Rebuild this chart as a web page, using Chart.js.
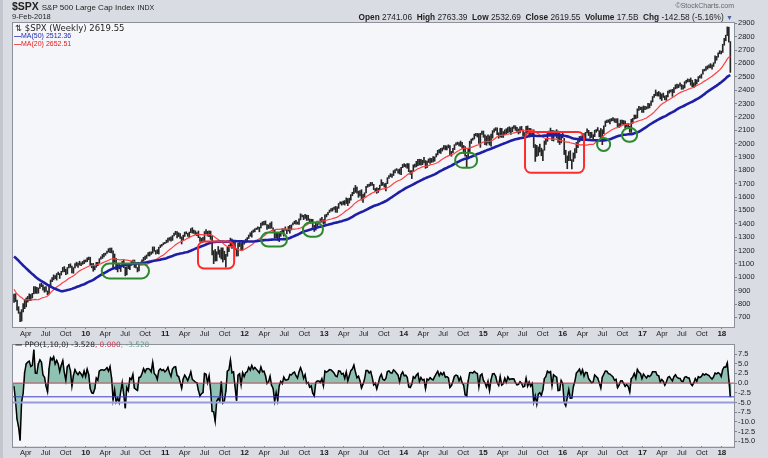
<!DOCTYPE html>
<html>
<head>
<meta charset="utf-8">
<script src="https://cdn.jsdelivr.net/npm/chart.js@4.4.1/dist/chart.umd.min.js"></script>
<style>
body { margin: 0; width: 768px; height: 458px; overflow: hidden; position: relative; background: #d9dce2; font-family: "Liberation Sans", Arial, sans-serif; }
canvas { position: absolute; left: 0; }
#priceCanvas { top: 0; }
#ppoCanvas { top: 339px; }
.txt { position: absolute; white-space: nowrap; color: #1e1e1e; line-height: 1; }
.leg { font-family: "DejaVu Sans", Verdana, sans-serif; }
#edge { position: absolute; left: 0; top: 0; width: 3px; height: 458px; background: #c3c6cc; }
</style>
</head>
<body>
<div id="edge"></div>
<canvas id="priceCanvas" width="768" height="339"></canvas>
<canvas id="ppoCanvas" width="768" height="119"></canvas>

<div class="txt" style="left:12px;top:1px;font-size:10.5px;font-weight:bold;">$SPX <span style="font-weight:normal;font-size:8px;">S&amp;P 500 Large Cap Index</span> <span style="font-weight:normal;font-size:7px;">INDX</span></div>
<div class="txt" style="left:12px;top:13px;font-size:7.5px;">9-Feb-2018</div>
<div class="txt" style="right:34px;top:2px;font-size:7px;color:#666;">&copy;StockCharts.com</div>
<div class="txt" style="right:35px;top:13px;font-size:8.3px;"><b>Open</b> 2741.06 &nbsp;<b>High</b> 2763.39 &nbsp;<b>Low</b> 2532.69 &nbsp;<b>Close</b> 2619.55 &nbsp;<b>Volume</b> 17.5B &nbsp;<b>Chg</b> -142.58 (-5.16%) <span style="color:#4a64a8;font-size:7px;">&#9660;</span></div>

<div class="txt leg" style="left:15px;top:24px;font-size:8.5px;">&#8645; $SPX (Weekly) 2619.55</div>
<div class="txt" style="left:14px;top:32px;font-size:7px;color:#1f1fa8;"><b>&#8212;</b>MA(50) 2512.36</div>
<div class="txt" style="left:14px;top:40px;font-size:7px;color:#e81818;"><b>&#8212;</b>MA(20) 2652.51</div>

<div class="txt leg" style="left:15px;top:341px;font-size:7.4px;"><b>&#8212;</b> PPO(1,10,0) -3.528<span style="color:#c8384f;">, 0.000</span><span style="color:#6a9c8c;">, -3.528</span></div>

<script>
// weekly bars, first bar = week ending 6-Feb-2009, last = 9-Feb-2018
var firstWeek = '2009-02-06';

// 49 weekly closes before the first bar (Feb 2008 - Jan 2009), used to warm up the averages
var priorCloses = [
  1330.6,1293.4,1288.1,1329.5,1315.2,1370.4,1332.8,1390.3,1397.8,1413.9,1388.3,1425.4,1375.9,1400.4,
  1360.7,1360.0,1317.9,1278.4,1262.9,1239.5,1260.7,1257.8,1260.3,1296.3,1298.2,1292.2,1282.8,
  1242.3,1251.7,1255.1,1213.3,1099.2,899.2,940.6,876.8,968.8,931.0,873.3,800.0,896.2,
  876.1,879.7,887.9,872.8,931.8,890.4,850.1,832.0,825.9
];

var closes = [
  // 2009
  868.6,826.8,770.0,735.1,683.4,756.6,768.5,815.9,842.5,856.6,869.6,866.2,877.5,929.2,882.9,887.0,919.1,
  940.1,946.2,921.2,918.9,896.4,879.1,940.4,979.3,987.5,1010.5,1004.1,1026.1,1028.9,1016.4,1042.7,1068.3,1044.4,
  1025.2,1071.5,1087.7,1079.6,1036.2,1069.3,1093.5,1091.4,1091.5,1106.0,1106.4,1102.5,1126.5,1115.1,
  // 2010
  1145.0,1136.0,1091.8,1073.9,1066.2,1075.5,1109.2,1104.5,1138.7,1150.0,1159.9,1166.6,1178.1,1194.4,1192.1,1217.3,1186.7,
  1110.9,1135.7,1087.7,1089.4,1064.9,1091.6,1117.5,1076.8,1022.6,1078.0,1064.9,1102.7,1101.6,1121.6,1079.3,1071.7,1064.6,
  1104.5,1109.6,1125.6,1148.7,1146.2,1165.2,1176.2,1183.1,1183.3,1225.9,1199.2,1199.7,1189.4,1224.7,1240.4,1243.9,1256.8,1257.6,
  // 2011
  1271.5,1293.2,1283.4,1276.3,1310.9,1329.2,1343.0,1319.9,1321.2,1304.3,1279.2,1313.8,1332.4,1328.2,1319.7,1337.4,1363.6,
  1340.2,1337.8,1333.3,1331.1,1300.2,1271.0,1271.5,1268.5,1339.7,1343.8,1316.1,1345.0,1292.3,1199.4,1178.8,1123.5,1176.8,
  1174.0,1154.2,1216.0,1136.4,1131.4,1155.5,1224.6,1238.3,1285.1,1253.2,1263.9,1215.7,1158.7,1244.3,1255.2,1219.7,1265.3,1257.6,
  // 2012
  1277.8,1289.1,1315.4,1316.3,1344.9,1342.6,1361.2,1365.7,1369.6,1370.9,1404.2,1397.1,1408.5,1398.1,1370.3,1378.5,1403.4,
  1369.1,1353.4,1295.2,1317.8,1278.0,1325.7,1342.8,1335.0,1362.2,1354.7,1356.8,1362.7,1386.0,1391.0,1405.9,1418.2,1411.1,1406.6,
  1437.9,1465.8,1460.2,1440.7,1460.9,1428.6,1433.2,1411.9,1414.2,1379.9,1359.9,1409.2,1416.2,1418.1,1413.6,1430.2,1402.4,
  // 2013
  1466.5,1472.1,1486.0,1503.0,1513.2,1517.9,1519.8,1515.6,1518.2,1551.2,1560.7,1556.9,1569.2,1553.3,1588.9,1555.3,1582.2,
  1614.4,1633.7,1667.5,1649.6,1630.7,1643.4,1626.7,1592.4,1606.3,1631.9,1680.2,1692.1,1691.7,1709.7,1691.4,1655.8,1663.5,1633.0,
  1655.2,1688.0,1709.9,1691.8,1690.5,1703.2,1744.5,1759.8,1761.6,1770.6,1798.2,1804.8,1805.8,1805.1,1775.3,1818.3,1841.4,
  // 2014
  1831.4,1842.4,1838.7,1790.3,1782.6,1797.0,1838.6,1836.3,1859.5,1878.0,1841.1,1866.5,1857.6,1865.1,1815.7,1864.9,1863.4,
  1881.1,1878.5,1877.9,1900.5,1923.6,1949.4,1936.2,1962.9,1961.0,1985.4,1967.6,1978.2,1978.3,1925.2,1931.6,1955.1,1988.4,2003.4,
  2007.7,1985.5,2010.4,1982.9,1967.9,1906.1,1886.8,1964.6,2018.1,2031.9,2039.8,2063.5,2067.6,2075.4,2002.3,2070.7,2088.8,
  // 2015
  2058.2,2044.8,2019.4,2051.8,1995.0,2055.5,2097.0,2110.3,2104.5,2071.3,2053.4,2108.1,2061.0,2067.0,2102.1,2081.2,2117.7,
  2108.3,2116.1,2122.7,2126.1,2107.4,2092.8,2094.1,2110.0,2101.5,2076.8,2076.6,2126.6,2079.7,2103.8,2077.6,2091.5,1970.9,1988.9,
  1921.2,1961.1,1958.0,1931.3,1951.4,2014.9,2033.1,2075.2,2079.4,2099.2,2023.0,2089.2,2090.1,2091.7,2012.4,2005.6,2061.0,2043.9,
  // 2016
  1922.0,1880.3,1906.9,1940.2,1880.1,1864.8,1917.8,1948.1,2000.0,2022.2,2049.6,2035.9,2072.8,2047.6,2080.7,2091.6,2065.3,
  2057.1,2046.6,2052.3,2099.1,2099.1,2096.1,2071.2,2037.4,2103.0,2129.9,2161.7,2175.0,2173.6,2182.9,2184.1,2183.9,2169.0,
  2180.0,2127.8,2139.2,2164.7,2168.3,2153.7,2133.0,2141.2,2126.4,2085.2,2164.5,2181.9,2213.4,2192.0,2259.5,2258.1,2263.8,2238.8,
  // 2017
  2277.0,2274.6,2271.3,2294.7,2297.4,2316.1,2351.2,2367.3,2383.1,2372.6,2378.3,2344.0,2362.7,2355.5,2329.0,2348.7,2384.2,
  2399.3,2390.9,2381.7,2415.8,2439.1,2431.8,2433.2,2438.3,2423.4,2425.2,2459.3,2472.5,2472.1,2476.8,2441.3,2425.6,2443.1,
  2476.6,2461.4,2500.2,2502.2,2519.4,2549.3,2553.2,2575.2,2581.1,2587.8,2582.3,2578.9,2602.4,2642.2,2651.5,2675.8,2683.3,2673.6,
  // 2018
  2743.2,2786.2,2810.3,2872.9,2762.1,2619.55
];

var lows = [
  // 2009
  812,818,754,730,667,672,741,765,779,814,826,826,845,876,879,879,881,
  917,930,903,888,895,869,875,936,968,980,990,979,1019,991,1017,1040,1041,
  1019,1025,1070,1074,1033,1030,1069,1085,1073,1091,1086,1097,1102,1114,
  // 2010
  1116,1131,1090,1071,1045,1056,1075,1086,1105,1135,1141,1152,1165,1179,1188,1184,1182,
  1066,1111,1056,1040,1063,1043,1087,1071,1011,1018,1064,1056,1088,1101,1074,1069,1040,
  1048,1092,1102,1122,1131,1141,1159,1159,1171,1180,1194,1173,1177,1174,1222,1232,1243,1252,
  // 2011
  1257,1263,1276,1270,1276,1310,1320,1294,1304,1291,1249,1279,1305,1325,1306,1295,1334,
  1330,1328,1318,1311,1296,1268,1258,1262,1267,1327,1308,1303,1283,1168,1102,1121,1122,
  1172,1149,1136,1114,1131,1075,1157,1191,1230,1215,1226,1209,1158,1159,1230,1203,1203,1248,
  // 2012
  1258,1274,1290,1307,1300,1336,1340,1357,1359,1340,1369,1389,1392,1392,1357,1365,1366,
  1367,1344,1292,1296,1277,1267,1306,1324,1307,1352,1325,1345,1329,1354,1391,1400,1397,1397,
  1396,1429,1452,1431,1440,1425,1427,1403,1406,1373,1343,1353,1385,1398,1411,1412,1398,
  // 2013
  1402,1451,1467,1485,1494,1495,1508,1486,1485,1515,1548,1539,1545,1540,1552,1536,1555,
  1577,1610,1626,1635,1630,1598,1608,1577,1560,1601,1631,1673,1680,1684,1688,1655,1640,1628,
  1634,1655,1686,1687,1674,1646,1700,1740,1752,1746,1761,1780,1799,1779,1772,1767,1820,
  // 2014
  1828,1823,1815,1790,1770,1738,1791,1824,1826,1834,1840,1839,1842,1856,1815,1820,1859,
  1851,1859,1862,1868,1900,1915,1930,1926,1944,1958,1953,1952,1968,1916,1905,1932,1955,1989,
  1993,1983,1979,1965,1926,1905,1821,1886,1937,2001,2025,2034,2058,2049,2002,1972,2069,
  // 2015
  2047,1992,1988,2004,1989,1981,2041,2085,2098,2067,2040,2049,2046,2046,2067,2073,2080,
  2086,2068,2089,2113,2099,2086,2072,2079,2096,2056,2044,2077,2079,2063,2068,2052,1971,1867,
  1903,1910,1937,1909,1872,1950,1993,2017,2059,2069,2022,2019,2070,2042,2009,1993,2005,2043,
  // 2016
  1918,1857,1812,1872,1872,1810,1866,1891,1931,1969,2012,2023,2022,2033,2039,2080,2060,
  2040,2045,2025,2052,2085,2095,2050,2033,1992,2075,2128,2156,2159,2148,2168,2172,2160,
  2157,2127,2119,2132,2145,2142,2115,2125,2120,2084,2084,2151,2183,2187,2192,2248,2254,2234,
  // 2017
  2233,2254,2258,2263,2267,2285,2311,2345,2358,2356,2355,2334,2322,2345,2328,2323,2349,
  2378,2387,2353,2381,2409,2415,2418,2429,2406,2407,2416,2452,2461,2462,2437,2425,2418,
  2428,2446,2464,2492,2489,2520,2543,2547,2557,2566,2567,2557,2577,2601,2624,2646,2672,2670,
  // 2018
  2682,2736,2769,2808,2759,2532.69
];

var highs = [
  // 2009
  875,877,830,780,739,758,804,833,845,857,876,871,880,930,930,924,920,
  951,956,944,927,931,898,941,980,997,1018,1012,1028,1039,1028,1045,1074,1080,
  1060,1073,1097,1101,1084,1072,1102,1113,1106,1120,1108,1119,1128,1130,
  // 2010
  1146,1151,1150,1103,1104,1081,1112,1112,1139,1153,1170,1180,1181,1195,1214,1218,1219,
  1197,1174,1141,1104,1105,1092,1119,1132,1076,1079,1100,1104,1120,1128,1129,1100,1073,
  1105,1112,1131,1149,1158,1167,1184,1190,1190,1227,1227,1200,1206,1225,1241,1247,1258,1262,
  // 2011
  1278,1294,1297,1302,1312,1330,1344,1342,1333,1327,1302,1315,1338,1340,1329,1338,1364,
  1371,1353,1347,1334,1346,1301,1292,1298,1342,1356,1344,1347,1345,1308,1199,1208,1191,
  1230,1204,1220,1220,1195,1172,1225,1240,1293,1285,1277,1266,1216,1255,1267,1256,1266,1270,
  // 2012
  1285,1297,1316,1333,1345,1354,1363,1368,1378,1374,1405,1414,1419,1422,1394,1392,1406,
  1415,1369,1354,1328,1335,1335,1344,1364,1362,1377,1357,1380,1389,1392,1407,1420,1426,1414,
  1438,1475,1467,1463,1470,1465,1464,1436,1434,1433,1388,1410,1420,1420,1438,1448,1431,
  // 2013
  1467,1472,1486,1503,1514,1518,1525,1530,1526,1552,1564,1564,1570,1574,1594,1589,1592,
  1618,1636,1667,1687,1674,1644,1649,1655,1620,1632,1681,1694,1698,1710,1709,1695,1664,1670,
  1665,1689,1730,1710,1700,1704,1745,1760,1775,1771,1798,1805,1813,1806,1811,1823,1844,
  // 2014
  1850,1844,1851,1850,1798,1798,1841,1847,1867,1883,1883,1883,1875,1897,1873,1869,1885,
  1891,1889,1902,1901,1924,1950,1956,1964,1968,1986,1985,1983,1991,1985,1942,1964,1992,2006,
  2011,2008,2019,2010,1986,1977,1912,1965,2018,2034,2041,2071,2076,2076,2075,2077,2094,
  // 2015
  2094,2065,2056,2065,2058,2072,2097,2111,2119,2118,2081,2115,2114,2090,2103,2111,2120,
  2126,2118,2124,2135,2133,2121,2109,2126,2129,2102,2082,2129,2132,2114,2113,2102,2103,1993,
  1987,1975,1996,1966,1953,2020,2034,2080,2094,2116,2100,2097,2094,2104,2093,2076,2067,2081,
  // 2016
  2039,1950,1908,1940,1947,1881,1930,1963,2009,2023,2053,2056,2075,2075,2084,2111,2099,
  2084,2085,2067,2100,2105,2120,2097,2113,2104,2132,2169,2176,2178,2183,2188,2194,2187,
  2185,2187,2149,2176,2175,2173,2169,2148,2151,2131,2182,2189,2214,2214,2260,2278,2273,2273,
  // 2017
  2282,2279,2276,2301,2299,2319,2352,2368,2401,2383,2390,2381,2371,2378,2356,2361,2392,
  2400,2403,2406,2418,2440,2446,2441,2454,2442,2435,2463,2474,2484,2480,2491,2474,2454,
  2481,2477,2501,2509,2520,2553,2557,2576,2582,2589,2598,2590,2605,2657,2652,2679,2695,2692,
  // 2018
  2743,2787,2811,2873,2871,2763.39
];

// axis ticks
var priceTicks = [700,800,900,1000,1100,1200,1300,1400,1500,1600,1700,1800,1900,2000,2100,2200,2300,2400,2500,2600,2700,2800,2900];
var ppoTicks = [7.5,5,2.5,0,-2.5,-5,-7.5,-10,-12.5,-15];
var quarterNames = ['Jan','Apr','Jul','Oct'];
var ppoGuides = [0, -3.528, -5];

// hand drawn highlight boxes (dates / price levels)
var highlights = [
  { from: '2010-03-16', to: '2010-10-19', low: 991,  high: 1103, kind: 'green' },
  { from: '2011-06-01', to: '2011-11-14', low: 1065, high: 1267, kind: 'red' },
  { from: '2012-03-17', to: '2012-07-14', low: 1230, high: 1334, kind: 'green' },
  { from: '2012-09-25', to: '2012-12-26', low: 1304, high: 1409, kind: 'green' },
  { from: '2014-08-25', to: '2014-12-04', low: 1819, high: 1931, kind: 'green' },
  { from: '2015-07-12', to: '2016-04-08', low: 1781, high: 2087, kind: 'red' },
  { from: '2016-06-07', to: '2016-08-06', low: 1945, high: 2042, kind: 'green' },
  { from: '2016-09-29', to: '2016-12-08', low: 2013, high: 2117, kind: 'green' }
];

var FONT = '"Liberation Sans", Arial, sans-serif';
var startMs = Date.UTC(2009, 1, 6);

function weekIndex(iso) {
  var p = iso.split('-');
  return (Date.UTC(+p[0], +p[1] - 1, +p[2]) - startMs) / (7 * 86400000);
}

// quarter ticks on the date axis
var xTicks = [];
var xTickLabels = [];
for (var yr = 2009; yr <= 2018; yr++) {
  for (var q = 0; q < 4; q++) {
    var mm = q * 3 + 1;
    var w = weekIndex(yr + '-' + (mm < 10 ? '0' : '') + mm + '-01');
    if (w < 0 || w > closes.length) continue;
    xTicks.push(w);
    xTickLabels.push(q === 0 ? String(yr).slice(2) : quarterNames[q]);
  }
}

// moving averages and PPO from the weekly closes
var allCloses = priorCloses.concat(closes);
var off = priorCloses.length;
function sma(n) {
  var out = [];
  for (var i = 0; i < closes.length; i++) {
    var s = 0;
    for (var k = off + i - n + 1; k <= off + i; k++) s += allCloses[k];
    out.push({ x: i, y: s / n });
  }
  return out;
}
var ma50 = sma(50);
var ma20 = sma(20);

var ema = allCloses[0];
var ppo = [];
for (var j = 1; j < allCloses.length; j++) {
  ema = ema + (2 / 11) * (allCloses[j] - ema);
  if (j >= off) ppo.push({ x: j - off, y: (allCloses[j] - ema) / ema * 100 });
}

var xMin = -0.66, xMax = 472.4;

var plotFrame = {
  id: 'plotFrame',
  beforeDraw: function (chart) {
    var a = chart.chartArea, c = chart.ctx;
    c.save();
    c.fillStyle = '#f5f6fa';
    c.fillRect(a.left, a.top, a.right - a.left, a.bottom - a.top);
    c.restore();
  },
  afterDraw: function (chart) {
    var a = chart.chartArea, c = chart.ctx;
    c.save();
    c.strokeStyle = '#8d9199';
    c.lineWidth = 1;
    c.strokeRect(Math.round(a.left) - 0.5, Math.round(a.top) - 0.5, Math.round(a.right - a.left) + 1, Math.round(a.bottom - a.top) + 1);
    c.restore();
  }
};

var highlightBoxes = {
  id: 'highlightBoxes',
  afterDatasetsDraw: function (chart) {
    var xs = chart.scales.x, ys = chart.scales.y, c = chart.ctx;
    c.save();
    highlights.forEach(function (h) {
      var x1 = xs.getPixelForValue(weekIndex(h.from));
      var x2 = xs.getPixelForValue(weekIndex(h.to));
      var y1 = ys.getPixelForValue(h.high);
      var y2 = ys.getPixelForValue(h.low);
      var r = h.kind === 'green' ? Math.min(8, (y2 - y1) / 2) : 6;
      c.strokeStyle = h.kind === 'green' ? '#2c8a2c' : '#ff2b2b';
      c.lineWidth = 2;
      c.beginPath();
      c.roundRect(x1, y1, x2 - x1, y2 - y1, r);
      c.stroke();
    });
    c.restore();
  }
};

function xAxis() {
  return {
    type: 'linear',
    min: xMin,
    max: xMax,
    offset: false,
    afterBuildTicks: function (s) { s.ticks = xTicks.map(function (v) { return { value: v }; }); },
    afterFit: function (s) { s.height = 12; },
    grid: { drawOnChartArea: false, drawTicks: true, tickLength: 2, color: '#80848c', offset: false },
    border: { display: false },
    ticks: {
      autoSkip: false,
      maxRotation: 0,
      padding: 0,
      color: '#222',
      callback: function (v, i) { return xTickLabels[i]; },
      font: function (ctx) {
        var lbl = xTickLabels[ctx.index] || '';
        var isYear = /^\d+$/.test(lbl);
        return { family: FONT, size: isYear ? 8 : 7.5, weight: isYear ? 'bold' : 'normal' };
      }
    }
  };
}

function yAxis(min, max, tickList, fmt) {
  return {
    position: 'right',
    min: min,
    max: max,
    afterBuildTicks: function (s) { s.ticks = tickList.map(function (v) { return { value: v }; }); },
    afterFit: function (s) { s.width = 34; },
    grid: { drawOnChartArea: false, drawTicks: true, tickLength: 3, color: '#80848c' },
    border: { display: false },
    ticks: { autoSkip: false, padding: 1, color: '#222', font: { family: FONT, size: 7.5 }, callback: fmt }
  };
}

new Chart(document.getElementById('priceCanvas'), {
  type: 'bar',
  data: {
    datasets: [
      { type: 'line', label: 'MA(50)', data: ma50, borderColor: '#1f1fa6', borderWidth: 2.6, pointRadius: 0, tension: 0, order: 0 },
      { type: 'line', label: 'MA(20)', data: ma20, borderColor: '#ff4040', borderWidth: 1.2, pointRadius: 0, tension: 0, order: 1 },
      { type: 'bar', label: '$SPX', data: closes.map(function (c, i) { return { x: i, y: [lows[i], highs[i]] }; }),
        backgroundColor: '#262626', barThickness: 1, grouped: false, order: 3 }
    ]
  },
  options: {
    responsive: false,
    animation: false,
    devicePixelRatio: 1,
    layout: { padding: { left: 13, top: 23, right: 0, bottom: 0 } },
    plugins: { legend: { display: false }, tooltip: { enabled: false } },
    scales: {
      x: xAxis(),
      y: yAxis(628, 2902, priceTicks, function (v) { return String(v); })
    }
  },
  plugins: [plotFrame, highlightBoxes]
});

var guideColors = ['#c8384f', '#3b3bc4', '#9999dd'];
var guideWidths = [1, 1, 2];
var ppoSets = ppoGuides.map(function (v, i) {
  return { type: 'line', data: [{ x: xMin, y: v }, { x: xMax, y: v }], borderColor: guideColors[i], borderWidth: guideWidths[i], pointRadius: 0, order: 0 };
});
ppoSets.push({ type: 'line', label: 'PPO', data: ppo, borderColor: '#000', borderWidth: 1.5, pointRadius: 0, tension: 0,
  fill: 'origin', backgroundColor: '#8fc2b2', order: 1 });
ppoSets.push({ type: 'bar', label: 'Hist', data: ppo, backgroundColor: '#568f7f', barThickness: 1, grouped: false, order: 2 });

new Chart(document.getElementById('ppoCanvas'), {
  type: 'bar',
  data: { datasets: ppoSets },
  options: {
    responsive: false,
    animation: false,
    devicePixelRatio: 1,
    layout: { padding: { left: 13, top: 1, right: 0, bottom: 0 } },
    plugins: { legend: { display: false }, tooltip: { enabled: false } },
    scales: {
      x: xAxis(),
      y: yAxis(-16.2, 9.95, ppoTicks, function (v) { return v.toFixed(1); })
    }
  },
  plugins: [plotFrame]
});
</script>
</body>
</html>
